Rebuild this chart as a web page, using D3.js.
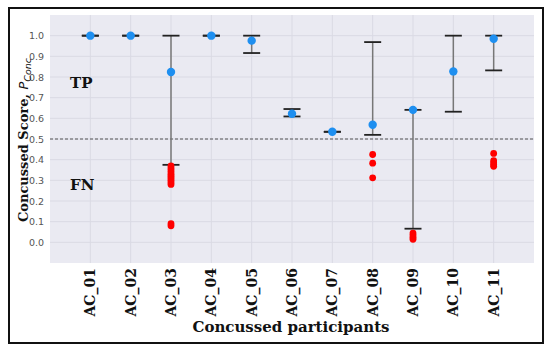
<!DOCTYPE html>
<meta charset="utf-8">
<style>
body { margin: 0; background: #fff; }
.grid line { stroke: #dadae4; stroke-width: 1px; }
.ytick { font-family: "DejaVu Sans", sans-serif; font-size: 9.5px; fill: #555; }
.xtick { font-family: "DejaVu Serif", serif; font-weight: bold; font-size: 14px; fill: #111; }
.lab { font-family: "DejaVu Serif", serif; font-weight: bold; font-size: 14px; fill: #111; }
</style>
<svg width="550" height="352"></svg>
<script src="https://d3js.org/d3.v7.min.js"></script>
<script>

var participants = ["AC_01","AC_02","AC_03","AC_04","AC_05","AC_06","AC_07","AC_08","AC_09","AC_10","AC_11"];
var meanScore  = [1.0, 1.0, 0.824, 1.0, 0.976, 0.622, 0.535, 0.569, 0.641, 0.827, 0.985];
var upperBound = [1.0, 1.0, 1.0,   1.0, 1.0,   0.645, 0.535, 0.969, 0.641, 1.0,   1.0];
var lowerBound = [1.0, 1.0, 0.375, 1.0, 0.916, 0.609, 0.535, 0.52,  0.066, 0.632, 0.832];

// false negatives (red points) per participant
var fnPoints = [
  ["AC_03", 0.37], ["AC_03", 0.36], ["AC_03", 0.35], ["AC_03", 0.34], ["AC_03", 0.33],
  ["AC_03", 0.32], ["AC_03", 0.31], ["AC_03", 0.30], ["AC_03", 0.29], ["AC_03", 0.28],
  ["AC_03", 0.09], ["AC_03", 0.08],
  ["AC_08", 0.425], ["AC_08", 0.383], ["AC_08", 0.312],
  ["AC_09", 0.045], ["AC_09", 0.035], ["AC_09", 0.025], ["AC_09", 0.015],
  ["AC_11", 0.43], ["AC_11", 0.395], ["AC_11", 0.385], ["AC_11", 0.375], ["AC_11", 0.368]
];

var yTicks = [0, 0.1, 0.2, 0.3, 0.4, 0.5, 0.6, 0.7, 0.8, 0.9, 1.0];
var threshold = 0.5;

var svg = d3.select("svg");
var pLeft = 50, pRight = 534, pTop = 15, pBottom = 263;

var x = d3.scalePoint().domain(participants).range([pLeft, pRight]).padding(1);
var y = d3.scaleLinear().domain([-0.1, 1.1]).range([pBottom, pTop]);

// outer frame
svg.append("rect")
    .attr("x", 9).attr("y", 8).attr("width", 534).attr("height", 335)
    .attr("fill", "#fff").attr("stroke", "#111").attr("stroke-width", 2);

// plot background
svg.append("rect")
    .attr("x", pLeft).attr("y", pTop)
    .attr("width", pRight - pLeft).attr("height", pBottom - pTop)
    .attr("fill", "#eaeaf2");

var grid = svg.append("g").attr("class", "grid");
grid.selectAll(".h").data(yTicks).enter().append("line")
    .attr("x1", pLeft).attr("x2", pRight)
    .attr("y1", function(d) { return y(d); })
    .attr("y2", function(d) { return y(d); });
grid.selectAll(".v").data(participants).enter().append("line")
    .attr("y1", pTop).attr("y2", pBottom)
    .attr("x1", function(d) { return x(d); })
    .attr("x2", function(d) { return x(d); });

// y tick labels
svg.append("g").selectAll("text").data(yTicks).enter().append("text")
    .attr("class", "ytick")
    .attr("x", 44)
    .attr("y", function(d) { return y(d) + 3.5; })
    .attr("text-anchor", "end")
    .text(function(d) { return d.toFixed(1); });

// x tick labels (rotated)
svg.append("g").selectAll("text").data(participants).enter().append("text")
    .attr("class", "xtick")
    .attr("text-anchor", "end")
    .attr("transform", function(d) { return "translate(" + (x(d) + 5) + ",268) rotate(-90)"; })
    .text(function(d) { return d; });

// threshold line
svg.append("line")
    .attr("x1", pLeft).attr("x2", pRight)
    .attr("y1", y(threshold)).attr("y2", y(threshold))
    .attr("stroke", "#444").attr("stroke-width", 0.9)
    .attr("stroke-dasharray", "3,2");

// error bars
var bars = svg.append("g").selectAll("g").data(participants).enter().append("g");
bars.append("line")
    .attr("x1", function(d) { return x(d); })
    .attr("x2", function(d) { return x(d); })
    .attr("y1", function(d, i) { return y(upperBound[i]); })
    .attr("y2", function(d, i) { return y(lowerBound[i]); })
    .attr("stroke", "#777").attr("stroke-width", 1.5);
[upperBound, lowerBound].forEach(function(arr) {
  bars.append("line")
      .attr("x1", function(d) { return x(d) - 8.5; })
      .attr("x2", function(d) { return x(d) + 8.5; })
      .attr("y1", function(d, i) { return y(arr[i]); })
      .attr("y2", function(d, i) { return y(arr[i]); })
      .attr("stroke", "#222").attr("stroke-width", 1.8);
});

// false negative points
svg.append("g").selectAll("circle").data(fnPoints).enter().append("circle")
    .attr("cx", function(d) { return x(d[0]); })
    .attr("cy", function(d) { return y(d[1]); })
    .attr("r", 3.4)
    .attr("fill", "#f00");

// mean points
svg.append("g").selectAll("circle").data(participants).enter().append("circle")
    .attr("cx", function(d) { return x(d); })
    .attr("cy", function(d, i) { return y(meanScore[i]); })
    .attr("r", 4.2)
    .attr("fill", "#1e8ff0");

// region annotations
svg.append("text").attr("class", "lab").attr("x", 70).attr("y", 88)
    .style("font-size", "15px").text("TP");
svg.append("text").attr("class", "lab").attr("x", 70).attr("y", 190)
    .style("font-size", "15px").text("FN");

// axis titles
svg.append("text").attr("class", "lab")
    .attr("x", 291).attr("y", 332)
    .style("font-size", "15px")
    .attr("text-anchor", "middle")
    .text("Concussed participants");

var yl = svg.append("text").attr("class", "lab")
    .style("font-size", "13px")
    .attr("text-anchor", "middle")
    .attr("transform", "translate(28,140) rotate(-90)");
yl.append("tspan").text("Concussed Score, ");
yl.append("tspan").style("font-family", "'DejaVu Sans', sans-serif")
    .style("font-weight", "normal").style("font-style", "italic").text("P");
yl.append("tspan").style("font-family", "'DejaVu Sans', sans-serif")
    .style("font-weight", "normal").style("font-style", "italic")
    .style("font-size", "9.5px").attr("dy", 3).text("Conc");

</script>
